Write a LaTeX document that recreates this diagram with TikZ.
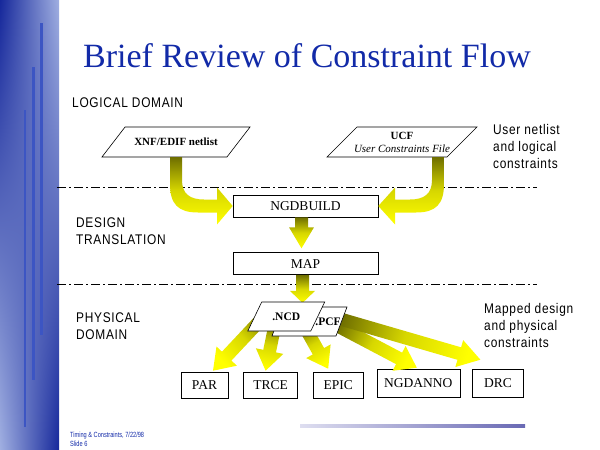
\documentclass[tikz,border=0pt]{standalone}
\usepackage{fontspec}
\setmainfont{Liberation Serif}
\newfontfamily\lblfont[FakeStretch=0.85,LetterSpace=5]{Liberation Sans}
\newfontfamily\footfont[FakeStretch=0.75]{Liberation Sans}
\usetikzlibrary{positioning,calc,shadings}

\definecolor{titleblue}{RGB}{18,42,168}
\definecolor{bardark}{RGB}{22,40,155}
\definecolor{barlight}{RGB}{160,175,225}
\definecolor{barline}{RGB}{60,85,195}
\definecolor{footlight}{RGB}{222,222,240}
\definecolor{footdark}{RGB}{105,105,180}
\definecolor{arrowdark}{RGB}{110,110,0}
\definecolor{arrowmid}{RGB}{215,215,0}
\definecolor{arrowlight}{RGB}{255,255,0}

\newcommand{\shafthalf}{6.5pt}
% fat shaded arrow: tail, tip, head length, head half width
\newcommand{\fatarrow}[4]{%
  \path (#1) coordinate (fa-s) (#2) coordinate (fa-e);
  \path ($(fa-e)!#3!(fa-s)$) coordinate (fa-b);
  \pgfmathanglebetweenpoints{\pgfpointanchor{fa-s}{center}}{\pgfpointanchor{fa-e}{center}}%
  \pgfmathsetmacro{\faangle}{\pgfmathresult-90}%
  \shade[fatarrow, shading angle=\faangle]
    ($(fa-s)!\shafthalf!90:(fa-e)$) -- ($(fa-b)!\shafthalf!-90:(fa-s)$)
    -- ($(fa-b)!#4!-90:(fa-s)$) -- (fa-e) -- ($(fa-b)!#4!90:(fa-s)$)
    -- ($(fa-b)!\shafthalf!90:(fa-s)$) -- ($(fa-s)!\shafthalf!-90:(fa-e)$) -- cycle;
}

\begin{document}
\begin{tikzpicture}[x=1pt, y=-1pt,
    tool/.style={draw, line width=0.6pt, fill=white, inner sep=0pt, minimum height=26pt, font=\fontsize{13.5}{16}\selectfont},
    filebox/.style={draw, line width=0.6pt, fill=white},
    filetext/.style={inner sep=0pt, font=\fontsize{11}{13}\selectfont\bfseries},
    areatext/.style={inner sep=0pt, anchor=north west, align=left, font=\lblfont\fontsize{14}{17}\selectfont},
    domainline/.style={line width=0.6pt, dash pattern=on 9pt off 3pt on 2pt off 3pt},
    fatarrow/.style={bottom color=arrowdark, top color=arrowlight, middle color=arrowmid},
    bendarrow/.style={top color=arrowdark, bottom color=arrowlight, middle color=arrowmid}]
    \useasboundingbox (0,0) rectangle (600,450);

    % side bar
    \shade[upper left=bardark, upper right=barlight, lower left=barlight, lower right=bardark] (0,0) rectangle (59,450);
    \foreach \x/\ya/\yb in {41.3/23/335, 33.3/67/380, 25/110/427}
        \fill[barline] (\x-1.3,\ya) rectangle (\x+1.3,\yb);

    \node[inner sep=0pt, anchor=base, text=titleblue, font=\fontsize{34}{40}\selectfont] (title) at (307,67) {Brief Review of Constraint Flow};

    \node[areatext] (logical) at (72,98) {LOGICAL DOMAIN};
    \node[areatext] (design) at (76,218) {DESIGN\\TRANSLATION};
    \node[areatext] (physical) at (76,313) {PHYSICAL\\DOMAIN};
    \node[areatext] (usernote) at (493,124) {User netlist\\and logical\\constraints};
    \node[areatext] (mapnote) at (484,303) {Mapped design\\and physical\\constraints};

    \draw[domainline] (57,187) -- (537,187);
    \draw[domainline] (57,284) -- (537,284);

    % input files
    \coordinate (xnfc) at (176,142);
    \draw[filebox, shift={(xnfc)}, xslant=0.77] (-62.5,-15) rectangle (62.5,15);
    \node[filetext] (xnf) at (xnfc) {XNF/EDIF netlist};
    \coordinate (ucfc) at (402,142);
    \draw[filebox, shift={(ucfc)}, xslant=1] (-60,-15) rectangle (60,15);
    \node[filetext, align=center] (ucf) at (ucfc) {UCF\\{\mdseries\itshape User Constraints File}};

    % tools
    \node[tool, minimum width=145pt, minimum height=22pt] (ngd) at (305.5,206) {NGDBUILD};
    \node[tool, minimum width=145pt, minimum height=22pt, below=35pt of ngd] (map) {MAP};
    \node[tool, minimum width=47pt] (par) at (204.5,385) {PAR};
    \node[tool, minimum width=54pt, right=15pt of par] (trce) {TRCE};
    \node[tool, minimum width=50pt, right=15pt of trce] (epic) {EPIC};
    \node[tool, minimum width=83pt, minimum height=28pt, right=13pt of epic, yshift=2pt] (ngdanno) {NGDANNO};
    \node[tool, minimum width=51pt, minimum height=28pt, right=12pt of ngdanno] (drc) {DRC};

    % arrows
    \shade[bendarrow] (170,157) -- (170,184) .. controls (170,204) and (178,212.5) .. (198,212.5)
        -- (217,212.5) -- (217,224.5) -- (ngd.west) -- (217,187.5) -- (217,199.5) -- (204,199.5)
        .. controls (190,199.5) and (182,194) .. (182,180) -- (182,157) -- cycle;
    \shade[bendarrow] (444,157) -- (444,184) .. controls (444,204) and (436,212.5) .. (416,212.5)
        -- (395,212.5) -- (395,224.5) -- (ngd.east) -- (395,187.5) -- (395,199.5) -- (410,199.5)
        .. controls (424,199.5) and (432,194) .. (432,180) -- (432,157) -- cycle;
    \fatarrow{[xshift=-4pt]ngd.south}{[xshift=-4pt,yshift=4pt]map.north}{21pt}{12.5pt}
    \fatarrow{[xshift=-3pt]map.south}{[xshift=-3pt,yshift=-28pt]map.south}{12pt}{12.5pt}
    \fatarrow{270,310}{[xshift=8.5pt,yshift=1pt]par.north}{20pt}{14pt}
    \fatarrow{276,320}{[xshift=-5pt,yshift=1pt]trce.north}{20pt}{14pt}
    \fatarrow{302,322}{[xshift=-10pt,yshift=3pt]epic.north}{20pt}{14pt}
    \fatarrow{330,322}{[xshift=-1.5pt,yshift=1pt]ngdanno.north}{20pt}{14pt}
    \fatarrow{330,316}{[xshift=-17.5pt,yshift=9pt]drc.north}{22pt}{14pt}

    % mapped files
    \coordinate (pcfc) at (309.5,321.5);
    \draw[filebox, shift={(pcfc)}, xslant=0.38] (-32,-14.5) rectangle (32,14.5);
    \coordinate (ncdc) at (286.25,316.5);
    \draw[filebox, shift={(ncdc)}, xslant=0.48] (-31.5,-14.5) rectangle (31.5,14.5);
    \node[filetext, font=\fontsize{11.5}{13}\selectfont\bfseries] (ncd) at (ncdc) {.NCD};
    \node[filetext, font=\fontsize{11.5}{13}\selectfont\bfseries] (pcf) at (328,322) {.PCF};

    % footer
    \shade[left color=footlight, right color=footdark] (300,424.5) rectangle (525,427.5);
    \node[inner sep=0pt, anchor=north west, align=left, text=titleblue, font=\footfont\fontsize{7.5}{8.5}\selectfont] (footer) at (70,432) {Timing \& Constraints, 7/22/98\\Slide 6};
\end{tikzpicture}
\end{document}
